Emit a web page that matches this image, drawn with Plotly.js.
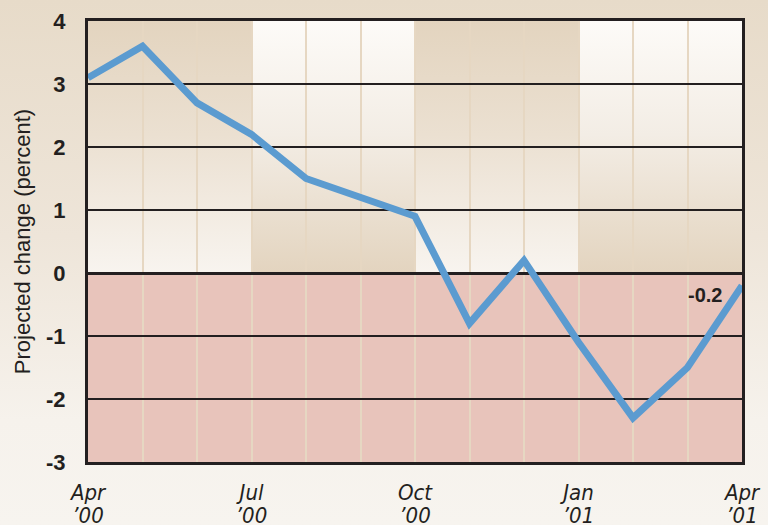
<!DOCTYPE html>
<html>
<head>
<meta charset="utf-8">
<script src="https://cdn.plot.ly/plotly-3.0.1.min.js"></script>
<style>
  html, body { margin:0; padding:0; width:768px; height:525px; overflow:hidden;
    background: linear-gradient(to bottom, #e7dbc9 0%, #eee5d9 45%, #f6f2ec 80%, #f7f4ef 100%); }
  #chart { width:768px; height:525px; }
</style>
</head>
<body>
<div id="chart"></div>
<script>
// Months from Apr '00 to Apr '01
const months = ["Apr '00","May '00","Jun '00","Jul '00","Aug '00","Sep '00","Oct '00","Nov '00","Dec '00","Jan '01","Feb '01","Mar '01","Apr '01"];
const projectedChange = [3.1, 3.6, 2.7, 2.2, 1.5, 1.2, 0.9, -0.8, 0.2, -1.1, -2.3, -1.5, -0.2];
const tickMonths = ["Apr '00","Jul '00","Oct '00","Jan '01","Apr '01"];
const tickMonthLabels = ["Apr","Jul","Oct","Jan","Apr"];
const tickYearLabels = ["’00","’00","’00","’01","’01"];
const yTicks = [-3, -2, -1, 0, 1, 2, 3, 4];
const lastLabel = "-0.2";

const xIdx = months.map((m, i) => i);
const tickIdx = tickMonths.map(m => months.indexOf(m));

const tan = '#e3d4bf', white = '#fdfbf8';
let rects = '';
for (let q = 0; q < tickIdx.length - 1; q++) {
  const x0 = tickIdx[q], w = tickIdx[q+1] - tickIdx[q];
  rects += `<rect x="${x0}" y="0" width="${w}" height="4" fill="url(#g${q % 2})"/>`;
}
const svg = `<svg xmlns="http://www.w3.org/2000/svg" viewBox="0 0 12 4" width="1200" height="400" preserveAspectRatio="none">
<defs>
<linearGradient id="g0" x1="0" y1="0" x2="0" y2="1"><stop offset="0" stop-color="${tan}"/><stop offset="0.45" stop-color="#ebe0d1"/><stop offset="1" stop-color="#f8f4ef"/></linearGradient>
<linearGradient id="g1" x1="0" y1="0" x2="0" y2="1"><stop offset="0" stop-color="${white}"/><stop offset="0.45" stop-color="#f3ede5"/><stop offset="1" stop-color="${tan}"/></linearGradient>
</defs>${rects}</svg>`;
const svgUri = 'data:image/svg+xml;charset=utf-8,' + encodeURIComponent(svg);

const trace = {
  x: xIdx, y: projectedChange, type: 'scatter', mode: 'lines',
  line: { color: '#5b9bd0', width: 7, shape: 'linear' },
  hoverinfo: 'skip'
};
// invisible trace to carry the second (year) row of x tick labels
const yearTrace = {
  x: xIdx, y: projectedChange, xaxis: 'x2', yaxis: 'y', type: 'scatter', mode: 'lines',
  line: { width: 0, color: 'rgba(0,0,0,0)' }, hoverinfo: 'skip', showlegend: false
};

const sans = 'Liberation Sans, Arial, Helvetica, sans-serif';
const narrow = 'Liberation Sans Narrow, Arial Narrow, DejaVu Sans Condensed, Arial, sans-serif';
const xFont = { family: narrow, size: 22, style: 'italic', color: '#231f20' };

const layout = {
  width: 768, height: 525,
  margin: { l: 88, r: 26, t: 21, b: 63 },
  paper_bgcolor: 'rgba(0,0,0,0)',
  plot_bgcolor: 'rgba(0,0,0,0)',
  showlegend: false,
  font: { family: sans },
  xaxis: {
    range: [0, months.length - 1], fixedrange: true,
    tickmode: 'array', tickvals: tickIdx, ticktext: tickMonthLabels,
    ticks: '', ticklabelstandoff: 9,
    tickfont: xFont,
    showgrid: true, gridcolor: '#e6d7c2', gridwidth: 2,
    minor: { dtick: 1, showgrid: true, gridcolor: '#e6d7c2', gridwidth: 2, ticks: '' },
    showline: true, mirror: true, linecolor: '#231f20', linewidth: 3,
    zeroline: false
  },
  xaxis2: {
    overlaying: 'x', side: 'bottom', anchor: 'y',
    range: [0, months.length - 1], fixedrange: true,
    tickmode: 'array', tickvals: tickIdx, ticktext: tickYearLabels,
    ticks: 'outside', ticklen: 25, tickcolor: 'rgba(0,0,0,0)', tickwidth: 1,
    ticklabelstandoff: 9,
    tickfont: xFont,
    showgrid: false, zeroline: false, showline: false
  },
  yaxis: {
    range: [-3, 4], fixedrange: true,
    tickmode: 'array', tickvals: yTicks, ticktext: yTicks.map(String),
    ticks: '', ticklabelstandoff: 15,
    tickfont: { family: sans, size: 22, weight: 'bold', color: '#231f20' },
    showgrid: true, gridcolor: '#231f20', gridwidth: 1.5,
    zeroline: true, zerolinecolor: '#231f20', zerolinewidth: 3,
    showline: true, mirror: true, linecolor: '#231f20', linewidth: 3,
    title: { text: 'Projected change (percent)', standoff: 10,
      font: { family: sans, size: 22, color: '#231f20' } }
  },
  images: [{
    source: svgUri, xref: 'x', yref: 'y', x: 0, y: 4,
    sizex: months.length - 1, sizey: 4, sizing: 'stretch',
    xanchor: 'left', yanchor: 'top', layer: 'below'
  }],
  shapes: [{
    type: 'rect', xref: 'x', yref: 'y', x0: 0, x1: months.length - 1, y0: -3, y1: 0,
    fillcolor: '#e8c4bb', line: { width: 0 }, layer: 'below'
  }],
  annotations: [{
    x: months.length - 1, y: projectedChange[projectedChange.length - 1],
    xref: 'x', yref: 'y', text: lastLabel, showarrow: false,
    xanchor: 'right', yanchor: 'middle', xshift: -18, yshift: -9,
    font: { family: sans, size: 20, weight: 'bold', color: '#231f20' }
  }]
};

Plotly.newPlot('chart', [trace, yearTrace], layout, { displayModeBar: false, staticPlot: true });
</script>
</body>
</html>
